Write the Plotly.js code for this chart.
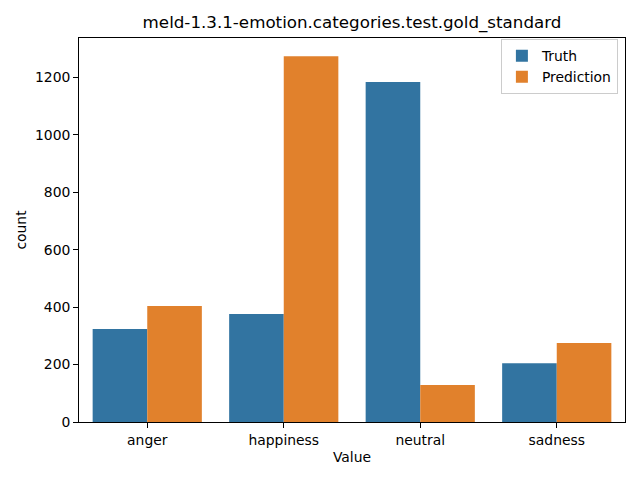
<!DOCTYPE html>
<html>
<head>
<meta charset="utf-8">
<script src="https://cdn.plot.ly/plotly-3.0.1.min.js"></script>
<style>html,body{margin:0;padding:0;background:#fff}#chart{width:640px;height:480px}</style>
</head>
<body>
<div id="chart"></div>
<script>
const categories = ["anger", "happiness", "neutral", "sadness"];
const truthValues = [324, 376, 1184, 205];
const predictionValues = [404, 1274, 129, 275];
const seriesNames = ["Truth", "Prediction"];
const yTicks = [0, 200, 400, 600, 800, 1000, 1200];

const font = {family: "DejaVu Sans, sans-serif", color: "#000", size: 13.9};

const data = [
  {type: "bar", name: seriesNames[0], x: categories, y: truthValues,
   marker: {color: "#3274a1", line: {width: 0}}},
  {type: "bar", name: seriesNames[1], x: categories, y: predictionValues,
   marker: {color: "#e1812c", line: {width: 0}}}
];

const layout = {
  width: 640, height: 480,
  margin: {l: 79, r: 15, t: 38, b: 58, pad: 0},
  paper_bgcolor: "#fff", plot_bgcolor: "#fff",
  font: font,
  barmode: "group", bargap: 0.2, bargroupgap: 0,
  title: {text: "meld-1.3.1-emotion.categories.test.gold_standard",
          font: {family: font.family, size: 16.7, color: "#000"},
          x: 0.5, xref: "paper", xanchor: "center",
          y: 1 - 22 / 480, yref: "container", yanchor: "middle"},
  xaxis: {
    type: "category", range: [-0.5, 3.5],
    showline: true, linecolor: "#000", linewidth: 1, mirror: true,
    ticks: "outside", ticklen: 4.9, tickwidth: 1, tickcolor: "#000",
    showgrid: false, zeroline: false,
    tickfont: font,
    title: {text: "Value", font: font, standoff: 5}
  },
  yaxis: {
    range: [0, 1337.7],
    tickvals: yTicks, ticktext: yTicks.map(String),
    showline: true, linecolor: "#000", linewidth: 1, mirror: true,
    ticks: "outside", ticklen: 4.9, tickwidth: 1, tickcolor: "#000",
    showgrid: false, zeroline: false,
    tickfont: font,
    title: {text: "count", font: font, standoff: 5}
  },
  legend: {
    x: 0.987, y: 0.997, xanchor: "right", yanchor: "top",
    bgcolor: "rgba(255,255,255,0.8)", bordercolor: "#cccccc", borderwidth: 1,
    font: font, traceorder: "normal", itemwidth: 30
  },
  showlegend: true
};

Plotly.newPlot("chart", data, layout, {staticPlot: true, displayModeBar: false});
</script>
</body>
</html>
